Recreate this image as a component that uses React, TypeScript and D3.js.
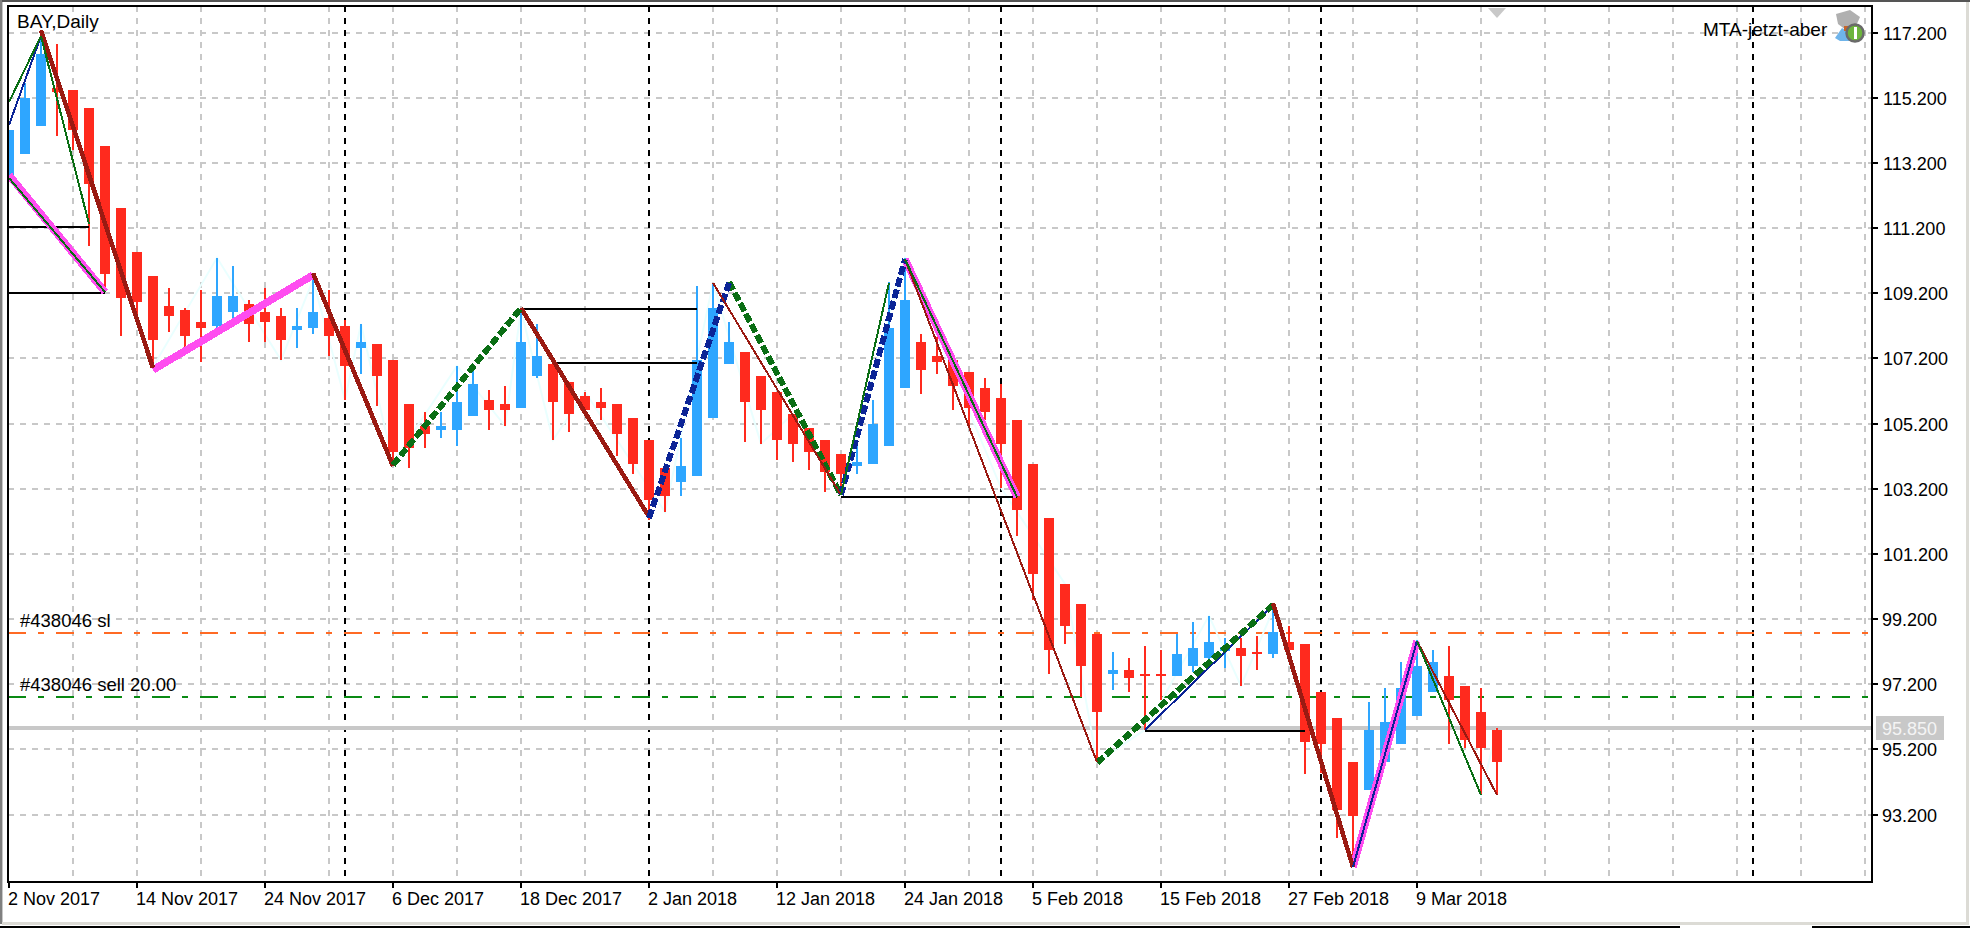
import React from "react";
import * as d3 from "d3";

const W = 1970, H = 928;

// candle values, indexed by trading session
const opens = [112.77,113.48,114.34,115.50,115.44,114.89,113.72,111.82,110.47,109.73,108.81,108.69,108.32,108.20,108.63,108.87,108.63,108.50,108.07,108.14,108.44,108.20,107.52,107.65,107.15,105.80,105.13,105.00,105.00,105.43,105.93,105.80,105.68,106.66,107.03,106.48,106.05,105.87,105.80,105.37,104.70,103.84,103.41,103.59,105.37,107.03,107.40,106.66,106.17,105.50,105.07,104.70,104.27,103.90,103.96,104.51,106.29,107.71,107.28,107.15,106.79,106.29,105.99,105.31,103.96,102.30,100.28,99.66,98.74,97.52,97.64,97.52,97.52,97.45,97.76,98.00,98.22,98.31,98.19,98.13,98.50,98.44,96.96,96.17,94.81,93.96,94.81,95.37,96.23,96.96,97.45,97.15,96.35,95.80];
const closes = [114.21,115.19,116.55,115.38,114.21,112.56,109.79,109.06,108.93,107.77,108.50,107.89,108.14,109.12,109.12,108.26,108.32,107.77,108.20,108.63,107.89,106.97,107.71,106.66,104.33,104.45,104.88,105.13,105.86,106.42,105.62,105.62,107.71,107.28,105.87,105.50,105.62,105.68,104.88,103.96,102.86,102.98,103.90,107.15,108.75,107.71,105.87,105.62,104.70,104.58,104.33,103.72,103.65,104.02,105.19,108.14,109.00,106.85,107.09,106.36,105.68,105.56,104.58,102.55,100.59,98.25,98.99,97.76,96.35,97.64,97.39,97.45,97.45,98.13,98.31,98.50,98.35,98.07,98.13,98.80,98.25,95.43,95.37,93.34,93.16,95.80,96.04,97.09,97.76,97.88,96.72,95.49,95.25,94.81];
const highs = [114.21,115.66,117.13,116.85,115.44,114.89,113.72,111.82,110.47,109.73,109.36,108.75,109.30,110.29,110.04,109.00,109.36,108.75,108.75,109.61,109.30,108.38,108.26,107.65,107.15,105.80,105.56,105.56,106.97,106.85,106.23,106.36,108.69,108.26,107.09,106.48,106.17,106.29,105.80,105.37,104.70,103.84,104.76,109.43,109.52,108.32,107.40,106.66,106.17,105.50,105.07,104.70,104.27,104.70,105.93,109.55,110.29,107.95,107.86,107.25,106.79,106.60,106.42,105.31,103.96,102.30,100.28,99.66,98.74,98.19,98.00,98.37,98.25,98.74,99.11,99.30,98.62,98.62,98.68,99.48,98.99,98.44,96.96,96.17,94.81,96.66,97.09,97.89,98.56,98.25,98.37,97.15,97.09,95.86];
const lows = [112.77,113.48,114.34,114.03,113.60,110.65,109.39,107.89,108.47,106.94,108.01,107.49,107.09,108.07,108.38,107.71,107.71,107.15,107.52,107.95,107.28,105.93,106.72,105.74,103.99,103.84,104.45,104.76,104.51,105.43,105.00,105.13,105.68,106.60,104.70,104.94,105.50,105.31,104.21,103.65,102.24,102.49,102.98,103.59,105.37,107.03,104.64,104.58,104.08,104.02,103.78,103.10,103.04,103.65,103.96,104.51,106.29,106.11,106.72,105.62,105.10,105.31,103.23,101.75,99.79,97.52,98.44,96.81,94.81,97.02,96.96,95.80,96.72,97.45,97.58,97.76,97.70,97.15,97.64,98.00,98.16,94.45,94.48,92.48,91.59,93.96,94.81,95.37,96.23,96.96,95.37,95.25,93.80,93.80];

const priceTicks = [117.2,115.2,113.2,111.2,109.2,107.2,105.2,103.2,101.2,99.2,97.2,95.2,93.2];
const dateLabels = ["2 Nov 2017","14 Nov 2017","24 Nov 2017","6 Dec 2017","18 Dec 2017","2 Jan 2018","12 Jan 2018","24 Jan 2018","5 Feb 2018","15 Feb 2018","27 Feb 2018","9 Mar 2018"];
const dateLabelEvery = 8;
const gridEvery = 4;
const gridCount = 30;
const separators = [21, 40, 62, 82, 109];

const stopLoss = 98.77;
const entry = 96.81;
const lastPrice = 95.85;

// zigzag legs: [fromIndex, fromPrice, toIndex, toPrice]
type Leg = [number, number, number, number];
const magentaLegs: Leg[] = [[0,112.83,6,109.24],[9,106.85,19,109.76],[56,110.25,63,102.95],[84,91.59,88,98.53]];
const darkRedThick: Leg[] = [[2,117.28,9,106.91],[19,109.82,24,103.90],[32,108.75,40,102.34],[79,99.69,84,91.59]];
const darkRedThin: Leg[] = [[44,109.52,52,103.01],[56,110.25,68,94.81],[88,98.53,93,93.80]];
const greenThick: Leg[] = [[24,103.93,32,108.75],[45,109.55,52,103.01],[68,94.79,79,99.63]];
const greenThin: Leg[] = [[0,115.07,2,117.10],[2,117.10,5,111.33],[0,112.74,6,109.24],[52,103.01,55,109.52],[56,110.25,63,102.95],[88,98.53,92,93.80]];
const navyThick: Leg[] = [[40,102.30,45,109.52],[52,103.01,56,110.25]];
const navyThin: Leg[] = [[0,114.37,2,117.10],[19,109.82,24,103.90],[32,108.75,40,102.34],[71,95.80,79,99.63],[84,91.59,88,98.53]];
const blackLevels: Leg[] = [[0,111.24,5,111.24],[0,109.21,6,109.21],[32,108.72,43,108.72],[34,107.06,43,107.06],[52,102.95,63,102.95],[71,95.77,81,95.77]];

const paleTurns: [number, "h" | "l"][] = [[2,"h"],[9,"l"],[13,"h"],[17,"l"],[19,"h"],[21,"l"],[22,"h"],[24,"l"],[28,"h"],[31,"l"],[32,"h"],[34,"l"],[36,"h"],[41,"l"],[44,"h"],[47,"l"],[49,"h"],[52,"l"],[56,"h"],[62,"l"],[66,"h"],[68,"l"],[71,"l"],[75,"h"],[77,"l"],[79,"h"],[84,"l"],[88,"h"],[92,"l"],[93,"h"]];

const RED = "#ff2a1e", BLUE = "#2ea6ff", GRID = "#c8c8c8";
const FONT = "'Liberation Sans', Arial, sans-serif";
const left = 9, right = 1871, top = 7, bottom = 881;

const x = d3.scaleLinear().domain([0, 93]).range([left, left + 16 * 93]);
const y = d3.scaleLinear().domain([117.2, 93.2]).range([32.7, 814.6]);
const pathOf = d3.line<number[]>().x(d => x(d[0])).y(d => y(d[1]));

function Legs({ legs, color, width, dash }: { legs: Leg[]; color: string; width: number; dash?: string }) {
  return (
    <g stroke={color} strokeWidth={width} strokeDasharray={dash} fill="none" shapeRendering="crispEdges" strokeLinecap="butt">
      {legs.map((l, i) => <path key={i} d={pathOf([[l[0], l[1]], [l[2], l[3]]]) as string} />)}
    </g>
  );
}

export default function App() {
  const pale = paleTurns.map(([i, k]) => [i, k === "h" ? highs[i] : lows[i]]);
  const gridXs = d3.range(1, gridCount).map(k => x(k * gridEvery));
  return (
    <svg width={W} height={H} viewBox={`0 0 ${W} ${H}`} style={{ position: "fixed", left: 0, top: 0, background: "#fff" }} fontFamily={FONT}>
      <defs>
        <clipPath id="plot"><rect x={left} y={top} width={right - left} height={bottom - top} /></clipPath>
      </defs>
      {/* window frame */}
      <rect x={0} y={0} width={W} height={2} fill="#555" />
      <rect x={0} y={0} width={2} height={924} fill="#808080" />
      <rect x={2} y={2} width={1} height={922} fill="#c8c8c8" />
      <rect x={1966} y={2} width={3} height={921} fill="#dcdbd5" />
      <rect x={2} y={922} width={1967} height={3} fill="#dcdbd5" />
      <rect x={0} y={926} width={1680} height={2} fill="#000" />
      <rect x={1812} y={926} width={158} height={2} fill="#000" />

      <g clipPath="url(#plot)">
        {/* grid */}
        <g stroke={GRID} strokeWidth={2} strokeDasharray="6 6" shapeRendering="crispEdges">
          {gridXs.map(gx => <line key={gx} x1={gx} x2={gx} y1={6} y2={bottom} />)}
          {priceTicks.map(p => <line key={p} x1={8} x2={right} y1={Math.round(y(p))} y2={Math.round(y(p))} />)}
        </g>
        {/* period separators */}
        <g stroke="#000" strokeWidth={2} strokeDasharray="6 6" shapeRendering="crispEdges">
          {separators.map(s => <line key={s} x1={x(s)} x2={x(s)} y1={6} y2={bottom} />)}
        </g>
        {/* last price */}
        <line x1={left} x2={right} y1={y(lastPrice)} y2={y(lastPrice)} stroke={GRID} strokeWidth={4} shapeRendering="crispEdges" />
        {/* order lines */}
        <g strokeWidth={2} strokeDasharray="18 12 6 12" strokeDashoffset={1} shapeRendering="crispEdges">
          <line x1={left} x2={1868} y1={y(stopLoss)} y2={y(stopLoss)} stroke="#ff6a24" />
          <line x1={left} x2={1868} y1={y(entry)} y2={y(entry)} stroke="#0a8a14" />
        </g>
        <path d={pathOf(pale) as string} fill="none" stroke="#eaffff" strokeWidth={2} />
        {/* candles */}
        <g shapeRendering="crispEdges">
          {opens.map((o, i) => {
            const c = closes[i];
            const col = c >= o ? BLUE : RED;
            const t = Math.round(y(Math.max(o, c)));
            const b = Math.round(y(Math.min(o, c)));
            return (
              <g key={i} fill={col}>
                <rect x={x(i) - 1} width={2} y={Math.round(y(highs[i]))} height={Math.round(y(lows[i])) - Math.round(y(highs[i]))} />
                <rect x={x(i) - 5} width={10} y={t} height={Math.max(2, b - t)} />
              </g>
            );
          })}
        </g>
        {/* zigzags */}
        <Legs legs={blackLevels} color="#000" width={2} />
        <Legs legs={magentaLegs} color="#ff4df0" width={7.5} />
        <Legs legs={navyThin} color="#0b2496" width={2} />
        <Legs legs={[darkRedThick[0], darkRedThick[1], darkRedThick[2]]} color="#9a1a12" width={4.5} />
        <Legs legs={greenThick} color="#0a6e14" width={6} dash="9 3" />
        <Legs legs={navyThick} color="#0b2496" width={6} dash="9 3" />
        <Legs legs={[darkRedThick[3]]} color="#9a1a12" width={4.5} />
        <Legs legs={[navyThin[4]]} color="#0b2496" width={2} />
        <Legs legs={darkRedThin} color="#9a1a12" width={2} />
        <Legs legs={greenThin} color="#0a6e14" width={2} />
      </g>

      {/* plot border */}
      <rect x={left - 1} y={top - 1} width={right - left + 2} height={bottom - top + 2} fill="none" stroke="#000" strokeWidth={2} shapeRendering="crispEdges" />

      {/* axes */}
      <g stroke="#000" strokeWidth={2} shapeRendering="crispEdges">
        {priceTicks.map(p => <line key={p} x1={right} x2={right + 7} y1={Math.round(y(p))} y2={Math.round(y(p))} />)}
        {dateLabels.map((_, i) => <line key={i} x1={x(i * dateLabelEvery)} x2={x(i * dateLabelEvery)} y1={bottom} y2={bottom + 7} />)}
      </g>
      <g fontSize={18} fill="#000">
        {priceTicks.map(p => <text key={p} x={p >= 100 ? 1883 : 1882} y={Math.round(y(p)) + 7}>{p.toFixed(3)}</text>)}
        {dateLabels.map((d, i) => <text key={d} x={x(i * dateLabelEvery) - 1} y={905}>{d}</text>)}
      </g>
      <rect x={1876} y={716} width={68} height={24} fill={GRID} />
      <text x={1882} y={735} fontSize={18} fill="#f4f4f4">{lastPrice.toFixed(3)}</text>

      {/* labels */}
      <g fill="#000" fontSize={19}>
        <text x={17} y={28}>BAY,Daily</text>
        <text x={1703} y={36}>MTA-jetzt-aber</text>
        <text x={20} y={627} fontSize={18.5}>#438046 sl</text>
        <text x={20} y={691} fontSize={18.5}>#438046 sell 20.00</text>
      </g>

      {/* shift marker */}
      <path d="M1488,8 L1506,8 L1497,18 Z" fill="#c8c8c8" />

      {/* expert icon */}
      <g>
        <path d="M1836,14 L1850,10 L1860,17 L1856,26 L1846,30 L1838,24 Z" fill="#b0b0b0" />
        <path d="M1835,38 L1842,28 L1848,32 L1850,41 L1840,41 Z" fill="#6fb4ea" />
        <rect x={1844} y={26} width={6} height={5} fill="#c8642a" />
        <circle cx={1855} cy={33} r={8.5} fill="#6cb43c" stroke="#6a6a6a" strokeWidth={2.5} />
        <rect x={1854} y={27} width={3} height={12} fill="#fff" />
      </g>
    </svg>
  );
}
